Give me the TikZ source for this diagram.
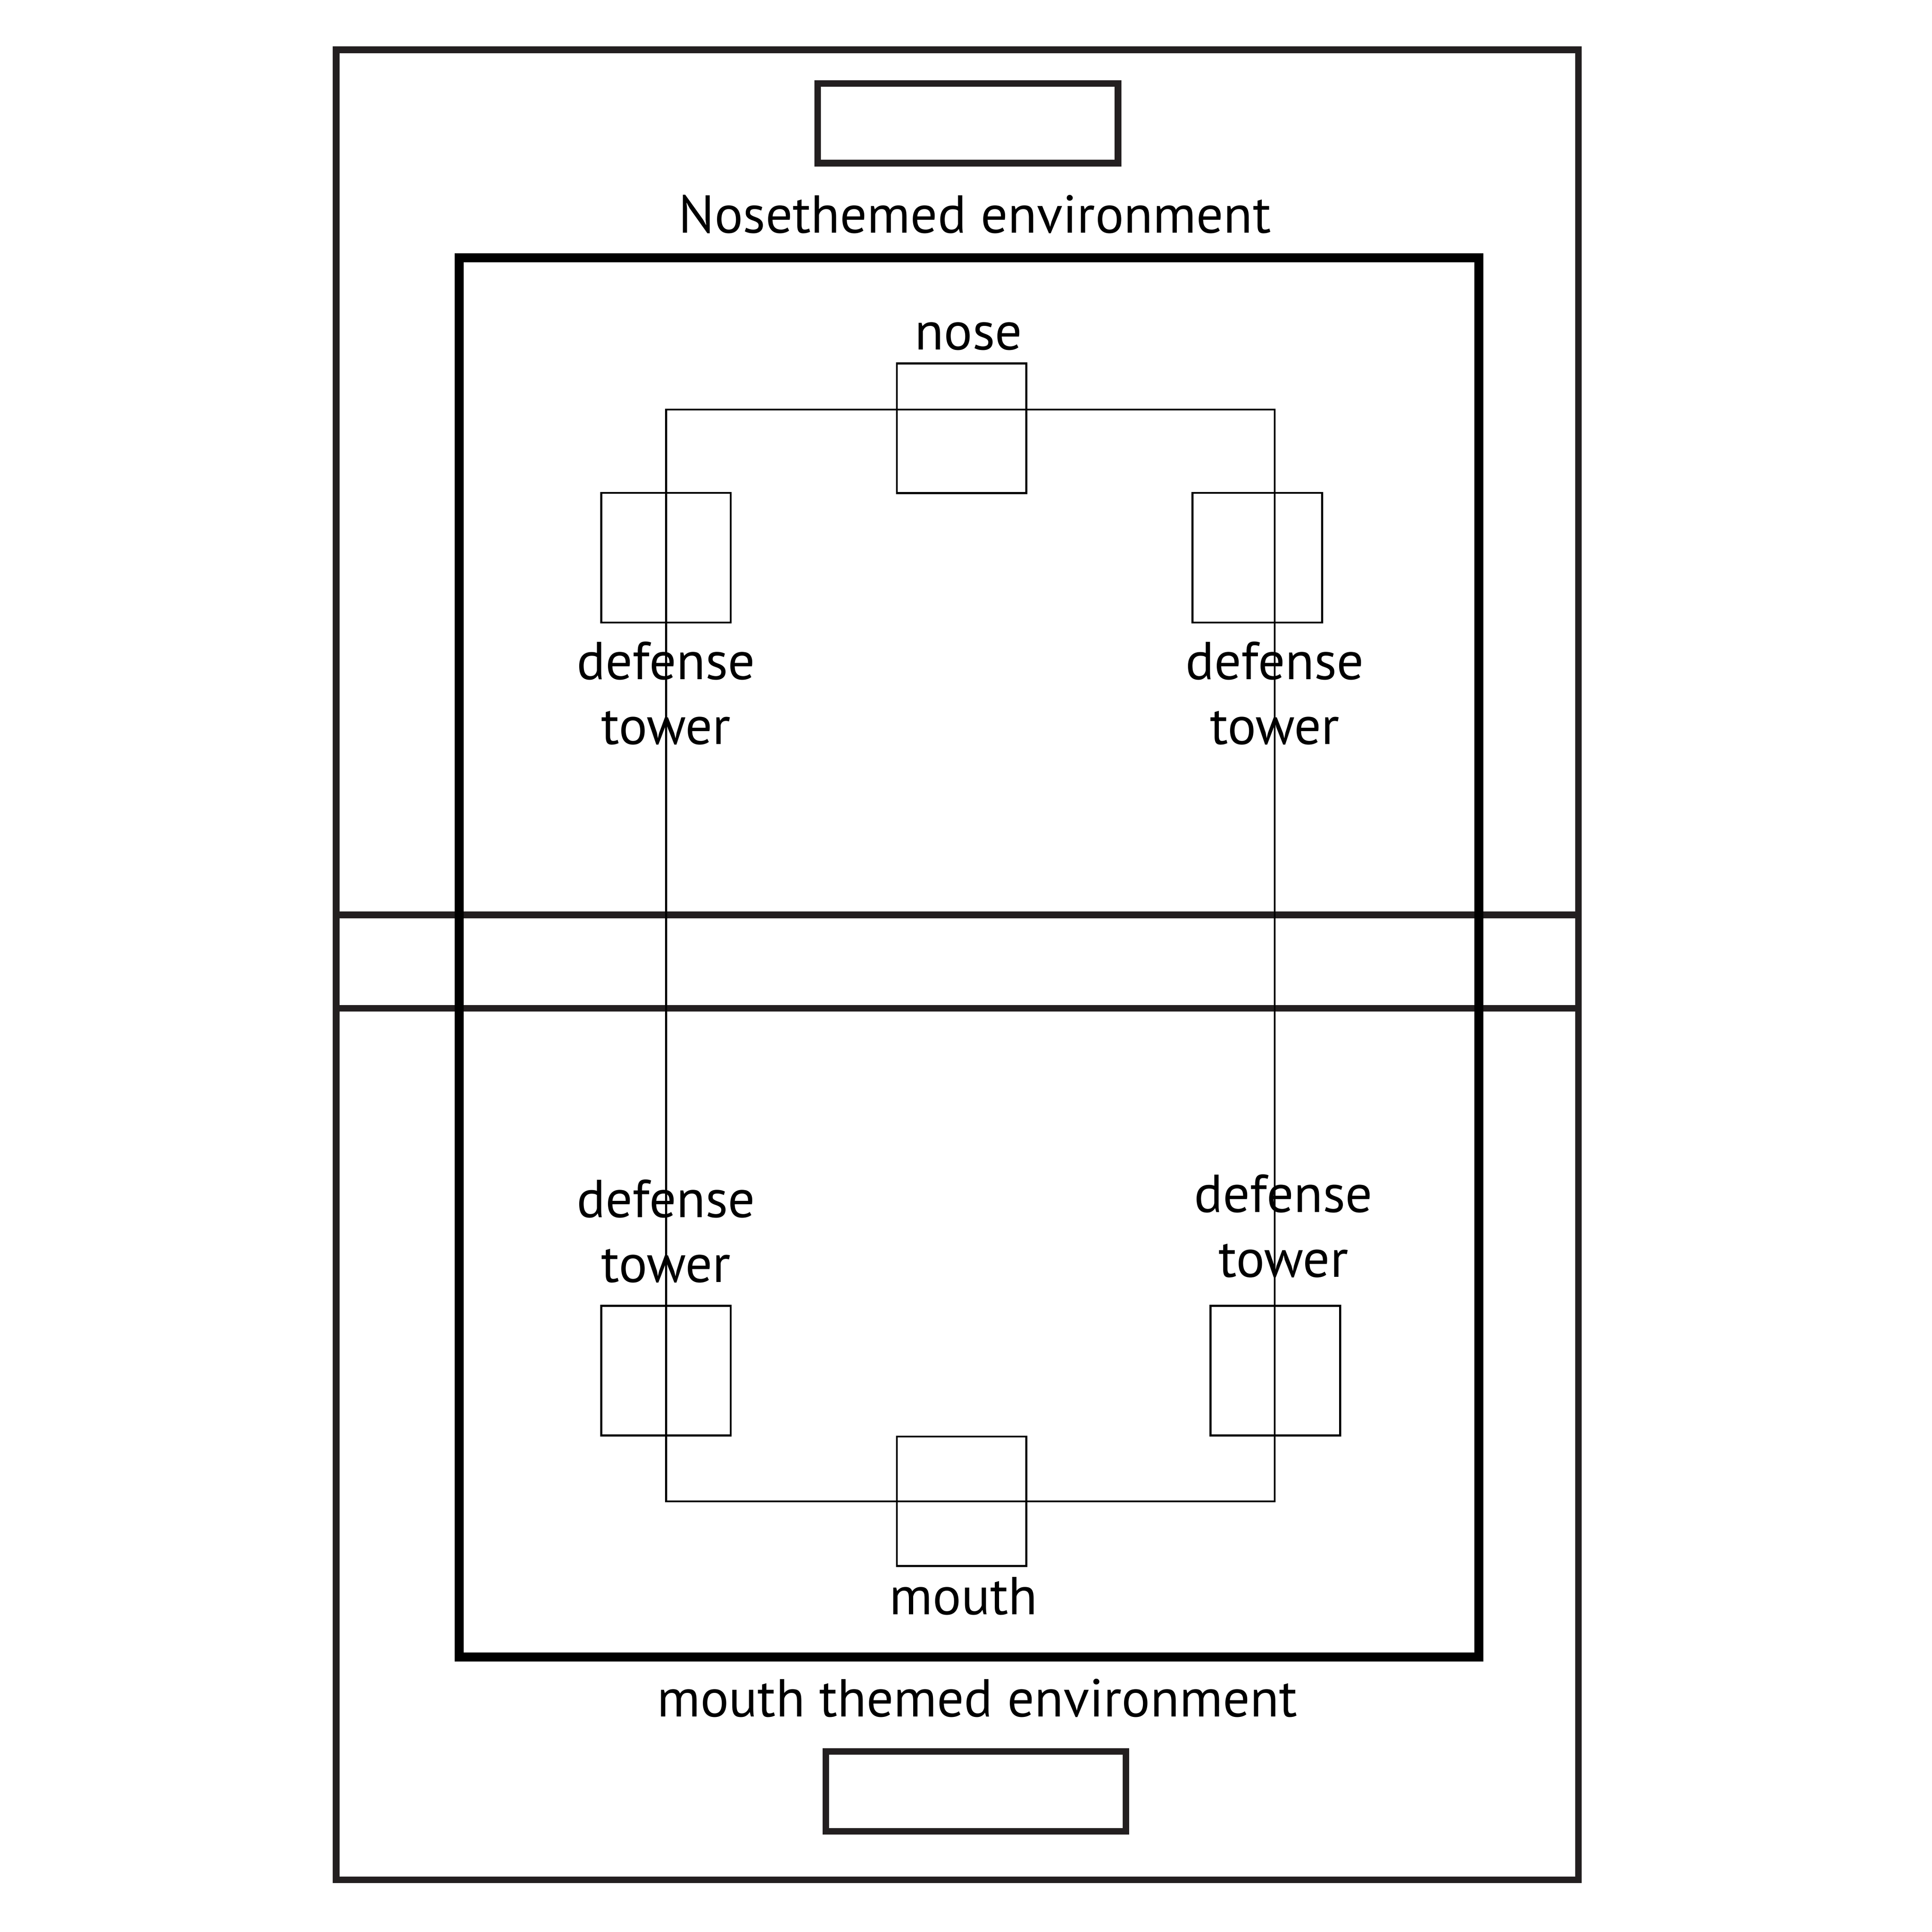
\documentclass[tikz,border=0pt]{standalone}
\usepackage{fontspec}
\setmainfont{PT Sans}
\usetikzlibrary{positioning}
\definecolor{ink}{HTML}{231F20}

\begin{document}
\begin{tikzpicture}[
		x=0.01cm, y=-0.01cm,
		frame/.style={
			draw=ink,
			line width=1.5pt
		},
		zone/.style={
			draw=black,
			line width=2.05pt
		},
		gate/.style={
			rectangle,
			draw=ink,
			line width=1.5pt,
			minimum width=2.41cm,
			minimum height=0.64cm,
			inner sep=0pt
		},
		spot/.style={
			rectangle,
			draw=black,
			line width=0.45pt,
			minimum size=1.04cm,
			inner sep=0pt
		},
		tag/.style={
			font=\fontsize{12.2}{14.8}\selectfont,
			align=center,
			inner sep=0pt,
			anchor=base
		},
		route/.style={
			draw=black,
			line width=0.45pt
		}
	]
	
	\useasboundingbox (0,0) rectangle (1552,1552);
	
	% field
	\draw[frame] (270,40) rectangle (1268,1510);
	\draw[frame] (270,735) -- (1268,735);
	\draw[frame] (270,810) -- (1268,810);
	\draw[zone] (369,207) rectangle (1188,1331);
	
	\node[gate] (topgate) at (777.5,99) {};
	\node[gate] (botgate) at (784,1439) {};
	\node[tag] (noseenv) at (783,187) {Nosethemed environment};
	\node[tag] (mouthenv) at (785,1379) {mouth themed environment};
	
	% path
	\coordinate (pNW) at (535,329);
	\coordinate (pSE) at (1024,1206);
	\draw[route] (pNW) rectangle (pSE);
	
	\node[spot] (nose) at (772.5,344) {};
	\node[spot] (mouth) at (772.5,1206) {};
	\node[spot] (towerNW) at (535,448) {};
	\node[spot] (towerNE) at (1010,448) {};
	\node[spot] (towerSW) at (535,1101) {};
	\node[spot] (towerSE) at (1024.5,1101) {};
	
	% labels (base = last line)
	\node[tag] (noselbl) at (778,281) {nose};
	\node[tag] (mouthlbl) at (774,1297) {mouth};
	\node[tag] (lblNW) at (535,598) {defense\\tower};
	\node[tag] (lblNE) at (1024,598) {defense\\tower};
	\node[tag] (lblSW) at (535,1030) {defense\\tower};
	\node[tag] (lblSE) at (1031,1026) {defense\\tower};
	
\end{tikzpicture}
\end{document}
